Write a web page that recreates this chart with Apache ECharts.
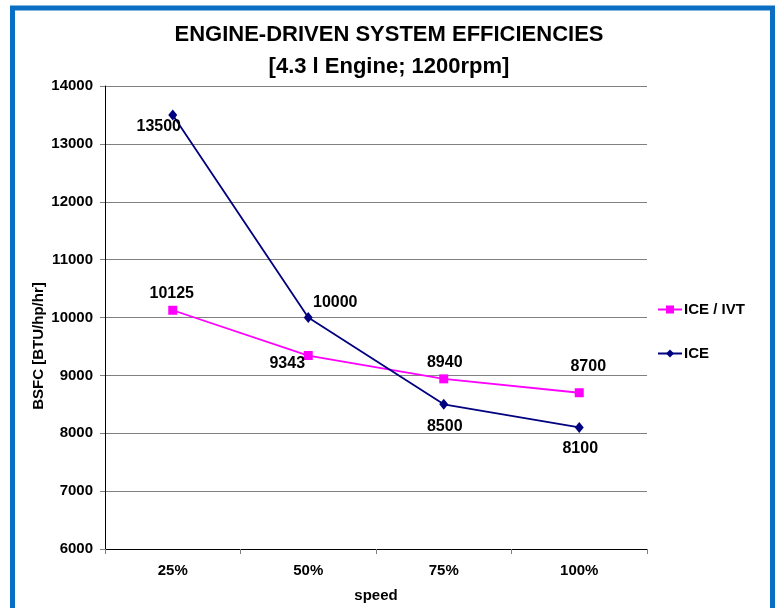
<!DOCTYPE html>
<html>
<head>
<meta charset="UTF-8">
<title>Engine-driven system efficiencies</title>
<script src="https://cdn.jsdelivr.net/npm/echarts@6/dist/echarts.min.js"></script>
<style>
  html, body { margin: 0; padding: 0; background: #fff; }
  #main { width: 778px; height: 608px; }
</style>
</head>
<body>
<div id="main"></div>
<script>
// data
var speeds = ['25%', '50%', '75%', '100%'];
var iceIvt = [10125, 9343, 8940, 8700];
var ice = [13500, 10000, 8500, 8100];
// label offsets (pixels) so the numbers sit where they do in the original
var iceIvtOffsets = [[-1, -17], [-21, 8], [1, -16], [9, -26]];
var iceOffsets = [[-14, 12], [27, -15], [1, 22], [1, 21]];

var font = 'Liberation Sans, Arial, sans-serif';

function withLabels(values, offsets) {
  return values.map(function (v, i) {
    return { value: v, label: { offset: offsets[i] } };
  });
}

var myChart = echarts.init(document.getElementById('main'));

var option = {
  animation: false,
  textStyle: { fontFamily: font, color: '#000' },
  title: {
    text: 'ENGINE-DRIVEN SYSTEM EFFICIENCIES\n[4.3 l Engine; 1200rpm]',
    left: 'center',
    top: 14,
    textStyle: {
      fontFamily: font,
      fontSize: 22,
      fontWeight: 'bold',
      color: '#000',
      lineHeight: 32
    }
  },
  legend: {
    orient: 'vertical',
    left: 652,
    top: 297,
    itemWidth: 24,
    itemHeight: 10,
    itemGap: 29,
    textStyle: { fontFamily: font, fontSize: 15, fontWeight: 'bold', color: '#000', padding: [0, 0, 0, -3] },
    data: ['ICE / IVT', 'ICE']
  },
  grid: { left: 105, right: 131, top: 86, bottom: 59 },
  xAxis: {
    type: 'category',
    data: speeds,
    boundaryGap: true,
    name: 'speed',
    nameLocation: 'middle',
    nameGap: 39,
    nameTextStyle: { fontFamily: font, fontSize: 15, fontWeight: 'bold', color: '#000' },
    axisLine: { lineStyle: { color: '#000', width: 1 } },
    axisTick: { show: true, length: 5, alignWithLabel: false, lineStyle: { color: '#808080' } },
    axisLabel: { fontFamily: font, fontSize: 15, fontWeight: 'bold', color: '#000', margin: 14 }
  },
  yAxis: {
    type: 'value',
    min: 6000,
    max: 14000,
    interval: 1000,
    axisLine: { show: true, lineStyle: { color: '#000', width: 1 } },
    axisTick: { show: true, length: 5, lineStyle: { color: '#808080' } },
    axisLabel: {
      fontFamily: font, fontSize: 15, fontWeight: 'bold', color: '#000', margin: 12,
      formatter: function (v) { return String(v); }
    },
    splitLine: { show: true, lineStyle: { color: '#808080', width: 1 } }
  },
  graphic: [
    {
      type: 'rect',
      shape: { x: 12.5, y: 8, width: 760, height: 640 },
      style: { fill: 'none', stroke: '#0a6fc2', lineWidth: 5 },
      silent: true
    },
    {
      type: 'text',
      x: 39,
      y: 346,
      rotation: Math.PI / 2,
      style: {
        text: 'BSFC [BTU/hp/hr]',
        font: 'bold 15px ' + font,
        fill: '#000',
        align: 'center',
        verticalAlign: 'middle'
      }
    }
  ],
  series: [
    {
      name: 'ICE / IVT',
      type: 'line',
      data: withLabels(iceIvt, iceIvtOffsets),
      symbol: 'rect',
      symbolSize: 9,
      itemStyle: { color: '#ff00ff' },
      lineStyle: { color: '#ff00ff', width: 1.8 },
      label: {
        show: true,
        position: 'inside',
        fontFamily: font,
        fontSize: 16,
        fontWeight: 'bold',
        color: '#000'
      },
      z: 3
    },
    {
      name: 'ICE',
      type: 'line',
      data: withLabels(ice, iceOffsets),
      symbol: 'diamond',
      symbolSize: [9, 11],
      itemStyle: { color: '#000080' },
      lineStyle: { color: '#000080', width: 1.8 },
      label: {
        show: true,
        position: 'inside',
        fontFamily: font,
        fontSize: 16,
        fontWeight: 'bold',
        color: '#000'
      },
      z: 4
    }
  ]
};

myChart.setOption(option);
</script>
</body>
</html>
